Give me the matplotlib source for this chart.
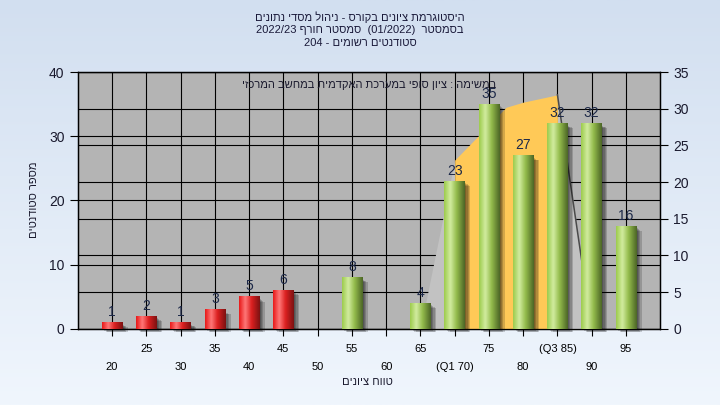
import re
import numpy as np
import matplotlib
matplotlib.use('Agg')
import matplotlib.pyplot as plt
from matplotlib.colors import LinearSegmentedColormap
from matplotlib.patches import Rectangle

plt.rcParams['font.family'] = ['Liberation Sans', 'DejaVu Sans']

# --- data ---
scores = [20, 25, 30, 35, 40, 45, 50, 55, 60, 65, 70, 75, 80, 85, 90, 95]
counts = [1, 2, 1, 3, 5, 6, 0, 8, 0, 4, 23, 35, 27, 32, 32, 16]
tick_labels = ['20', '25', '30', '35', '40', '45', '50', '55', '60', '65',
               '(70 Q1)', '75', '80', '(85 Q3)', '90', '95']
pass_mark = 55

# shaded curve behind the bars (right axis), Q1..Q3 in orange
curve_x = [65, 70, 75, 77.5, 80, 85, 90]
curve_y = [0, 23, 27.8, 30.2, 30.9, 31.9, 0]
q1, q3 = 70, 85

title_lines = ["היסטוגרמת ציונים בקורס - ניהול מסדי נתונים",
               "בסמסטר  (01/2022)  סמסטר חורף 2022/23",
               "סטודנטים רשומים - 204"]
note = "במשימה : ציון סופי במערכת האקדמית במחשב המרכזי"
xlabel = "טווח ציונים"
ylabel = "מספר סטודנטים"

MIRROR = {'(': ')', ')': '('}


def rtl(s):
    """logical -> visual order for a right-to-left line"""
    tokens = re.findall(r'[0-9A-Za-z]+(?:[/.:][0-9A-Za-z]+)*|[\u0590-\u05FF]+|.', s)
    out = []
    for t in reversed(tokens):
        if re.match(r'[\u0590-\u05FF]', t):
            out.append(t[::-1])
        else:
            out.append(MIRROR.get(t, t))
    return ''.join(out)


red_cmap = LinearSegmentedColormap.from_list(
    'red', [(0, '#e81818'), (0.3, '#ff7878'), (0.6, '#dc2020'), (1, '#7c1212')])
green_cmap = LinearSegmentedColormap.from_list(
    'green', [(0, '#9ccb4c'), (0.3, '#d2eca0'), (0.6, '#94bc4c'), (1, '#4c6626')])

fig = plt.figure(figsize=(7.2, 4.05), dpi=100)

# background gradient
bg = fig.add_axes([0, 0, 1, 1], zorder=-10)
bg.imshow(np.linspace(0, 1, 256).reshape(-1, 1), aspect='auto',
          cmap=LinearSegmentedColormap.from_list('bg', ['#d2dff0', '#f0f6fd']),
          extent=[0, 1, 0, 1])
bg.axis('off')

ax = fig.add_axes([0.108, 0.188, 0.809, 0.634])
ax2 = ax.twinx()
ax.set_zorder(ax2.get_zorder() + 1)
ax.patch.set_visible(False)
ax2.patch.set_visible(True)
ax2.patch.set_facecolor('#b4b4b4')

ax.set_xlim(15, 100)
ax.set_ylim(0, 40)
ax2.set_ylim(0, 35)

# grids (under the area)
ax.set_axisbelow(True)
ax.grid(True, which='both', axis='x', color='k', lw=0.8)
ax.grid(True, which='major', axis='y', color='k', lw=0.8)
ax2.grid(True, axis='y', color='k', lw=0.8)

# area
cx = np.array(curve_x)
cy = np.array(curve_y)
left = cx <= q1
mid = (cx >= q1) & (cx <= q3)
right = cx >= q3
ax.fill_between(cx[left], cy[left], 0, color='#c2c2c2', lw=0, zorder=1, transform=ax2.transData)
ax.fill_between(cx[right], cy[right], 0, color='#c2c2c2', lw=0, zorder=1, transform=ax2.transData)
ax.fill_between(cx[mid], cy[mid], 0, color='#ffc957', lw=0, zorder=1, transform=ax2.transData)
ax.plot(cx[right], cy[right], color='#4a4a4a', lw=1.1, zorder=1.1, transform=ax2.transData)

# bars
w = 3.0
grad = np.linspace(0, 1, 64).reshape(1, -1)
for s, c in zip(scores, counts):
    if c == 0:
        continue
    cmap = red_cmap if s < pass_mark else green_cmap
    for off in [0.2, 0.4, 0.6, 0.8]:
        ax.add_patch(Rectangle((s - w / 2 + off, -off * 0.7), w, c - 0.2, color='black',
                               alpha=0.17, lw=0, zorder=2, clip_on=False))
    ax.imshow(grad, extent=(s - w / 2, s + w / 2, 0, c), aspect='auto', cmap=cmap,
              zorder=3, interpolation='bicubic')
    ax.annotate(str(c), (s, c), xytext=(0, 2.5), textcoords='offset points',
                ha='center', va='bottom', fontsize=10, color='#1c2848', zorder=5)

ax.set_xlim(15, 100)
ax.set_ylim(0, 40)
ax.set_aspect('auto')

# ticks
ax.set_xticks(scores[0::2])
ax.set_xticklabels([rtl(t) for t in tick_labels[0::2]])
ax.set_xticks(scores[1::2], minor=True)
ax.set_xticklabels([rtl(t) for t in tick_labels[1::2]], minor=True)
ax.tick_params(axis='x', which='major', length=5, pad=19, labelsize=8, width=0.8)
ax.tick_params(axis='x', which='minor', length=5, pad=6, labelsize=8, width=0.8)
ax.set_yticks(range(0, 41, 10))
ax.tick_params(axis='y', length=6, labelsize=10, width=0.8, labelcolor='#1a1a2e')
ax2.set_yticks(range(0, 36, 5))
ax2.tick_params(axis='y', length=6, labelsize=10, width=0.8, labelcolor='#1a1a2e')
for a in (ax, ax2):
    for sp in a.spines.values():
        sp.set_color('k')
        sp.set_linewidth(0.9)

# texts
ax.text(0.5, 0.95, rtl(note), transform=ax.transAxes, ha='center', va='center',
        fontsize=8, color='#1a1a2e', zorder=6)
for i, line in enumerate(title_lines):
    fig.text(0.5, 1 - (17 + 13 * i) / 405, rtl(line), ha='center', va='center',
             fontsize=8, color='#1a1a3a')
fig.text(0.511, 1 - 382 / 405, rtl(xlabel), ha='center', va='center', fontsize=8, color='#1a1a2e')
fig.text(0.047, 1 - 200 / 405, rtl(ylabel), ha='center', va='center', rotation=90,
         fontsize=8, color='#1a1a2e')

fig.savefig('out.png', dpi=100)
